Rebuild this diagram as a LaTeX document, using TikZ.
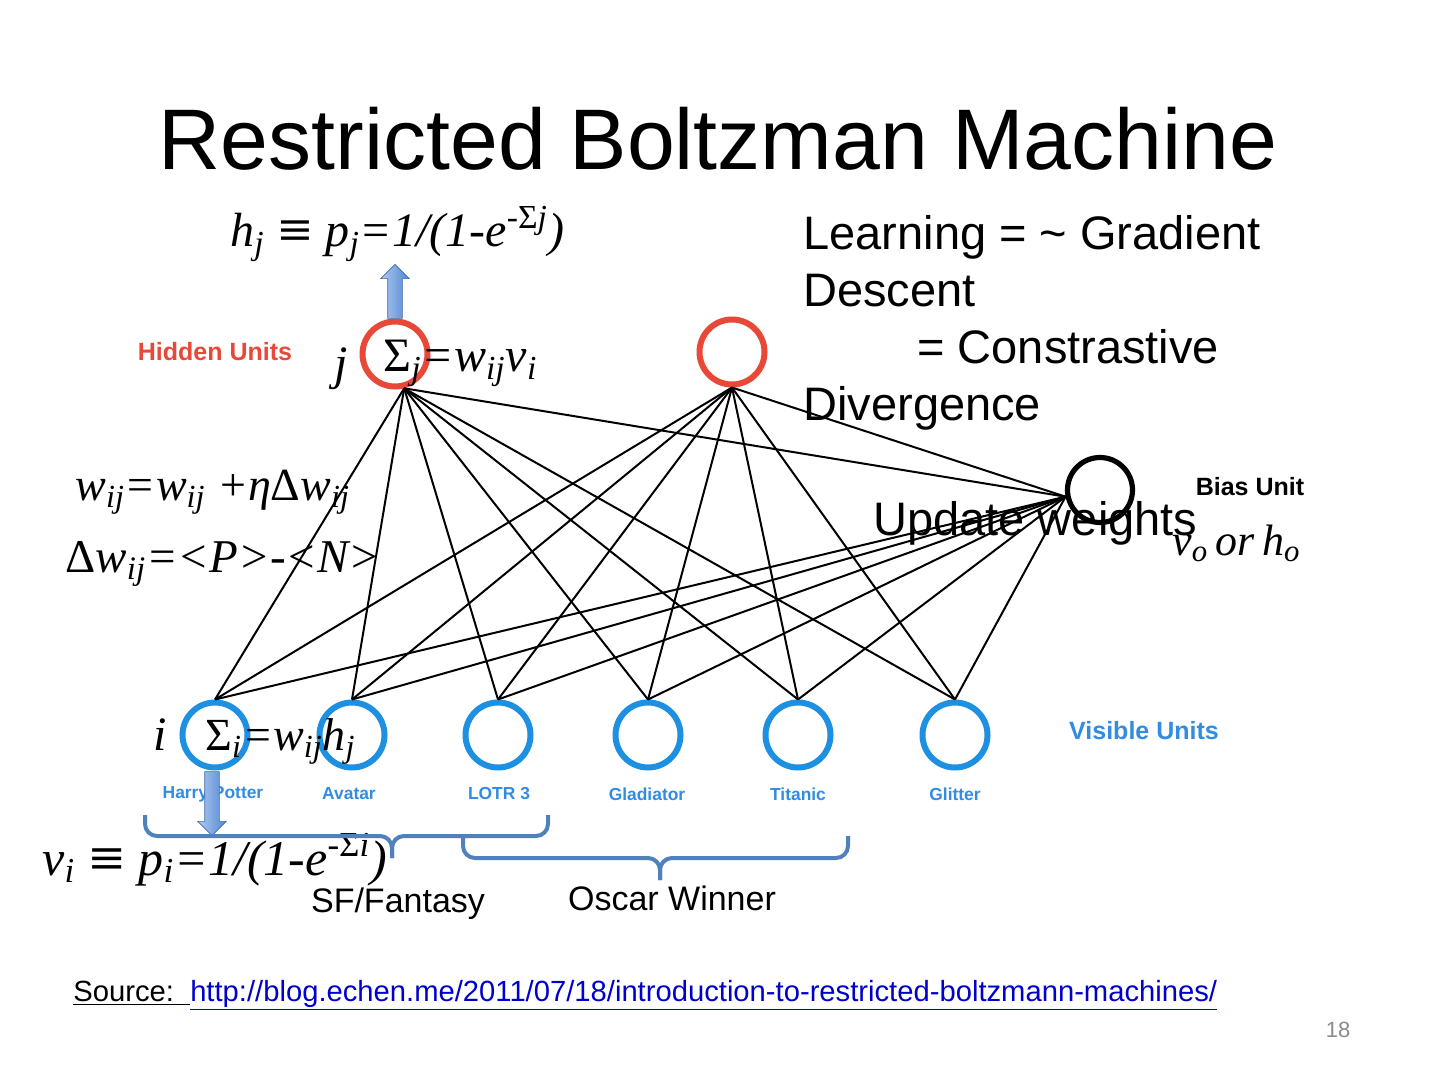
\documentclass[tikz,border=0pt]{standalone}
\usepackage{fontspec}
\setmainfont{Liberation Sans}
\newfontfamily\eqfont{Liberation Serif}
\usetikzlibrary{shapes.arrows}
\definecolor{hiddenred}{RGB}{232,72,56}
\definecolor{visblue}{RGB}{30,144,226}
\definecolor{labelblue}{RGB}{50,140,225}
\definecolor{bracecol}{RGB}{79,129,189}
\definecolor{arrowblue}{RGB}{80,135,215}
\definecolor{urlblue}{RGB}{0,0,204}
\definecolor{pagegray}{RGB}{140,140,140}
\tikzset{
  unit/.style={circle,inner sep=0pt,minimum size=32.5pt,line width=3pt},
  hidden/.style={unit,draw=hiddenred},
  visible/.style={unit,draw=visblue},
  biasunit/.style={unit,draw=black,line width=2.6pt},
  unitlabel/.style={font=\bfseries\fontsize{12.5}{14}\selectfont},
  movie/.style={font=\bfseries\fontsize{8.7}{10}\selectfont,text=labelblue},
  eqn/.style={anchor=base west,inner sep=0pt,font=\eqfont\itshape\fontsize{24}{28}\selectfont},
  bodytext/.style={anchor=base west,inner sep=0pt,font=\fontsize{23.5}{28.5}\selectfont},
  grouptext/.style={anchor=base,inner sep=0pt,font=\fontsize{17}{20}\selectfont},
  edge/.style={line width=1pt},
  bigarrow/.style={single arrow,inner sep=3.5pt,single arrow head extend=3.5pt,
    draw=arrowblue!80!black,line width=0.3pt,left color=arrowblue!45,right color=arrowblue},
  grouping/.style={draw=bracecol,line width=2pt,rounded corners=6pt}
}
\newcommand{\eqv}{\;{\upshape\bfseries\scalebox{1.25}[1]{≡}}\;}
\begin{document}
\begin{tikzpicture}[x=0.5pt,y=-0.5pt]
  \fill[white] (0,0) rectangle (1440,1080);
  \useasboundingbox (0,0) rectangle (1440,1080);
  \node[anchor=base,font=\fontsize{43}{50}\selectfont] (title) at (718,170) {Restricted Boltzman Machine};
  % units
  \node[hidden] (h1) at (395,354) {};
  \node[hidden] (h2) at (732,352) {};
  \node[biasunit] (bias) at (1100,490) {};
  \node[visible] (v1) at (215,735) {};
  \node[visible] (v2) at (352,735) {};
  \node[visible] (v3) at (498,735) {};
  \node[visible] (v4) at (648,735) {};
  \node[visible] (v5) at (798,735) {};
  \node[visible] (v6) at (955,735) {};
  \node[unitlabel,text=hiddenred] (hlabel) at (215,352) {Hidden Units};
  \node[unitlabel,text=labelblue] (vlabel) at (1144,731) {Visible Units};
  \node[unitlabel] (blabel) at (1250,487) {Bias Unit};
  \node[movie] (m1) at (213,794) {Harry Potter};
  \node[movie] (m2) at (349,794) {Avatar};
  \node[movie] (m3) at (499,794) {LOTR 3};
  \node[movie] (m4) at (647,794) {Gladiator};
  \node[movie] (m5) at (798,794) {Titanic};
  \node[movie] (m6) at (955,794) {Glitter};
  \begin{scope}[edge]
    \draw (h1.-75) to (v1.north);
    \draw (h1.-75) to (v2.north);
    \draw (h1.-75) to (v3.north);
    \draw (h1.-75) to (v4.north);
    \draw (h1.-75) to (v5.north);
    \draw (h1.-75) to (v6.north);
    \draw (h1.-75) to (bias.191);
    \draw (h2.south) to (v1.north);
    \draw (h2.south) to (v2.north);
    \draw (h2.south) to (v3.north);
    \draw (h2.south) to (v4.north);
    \draw (h2.south) to (v5.north);
    \draw (h2.south) to (v6.north);
    \draw (h2.south) to (bias.191);
    \draw (bias.191) to (v1.north);
    \draw (bias.191) to (v2.north);
    \draw (bias.191) to (v3.north);
    \draw (bias.191) to (v4.north);
    \draw (bias.191) to (v5.north);
    \draw (bias.191) to (v6.north);
  \end{scope}
  % sampling arrows
  \node[bigarrow,rotate=90,minimum height=27pt] (up) at (395,295) {};
  \node[bigarrow,rotate=-90,minimum height=32pt] (down) at (212,800) {};
  % formulas
  \node[eqn] (hj) at (230,247) {h\textsubscript{j}\eqv p\textsubscript{j}=1/(1-e\textsuperscript{-{\upshape Σ}j})};
  \node[eqn,anchor=base] (j) at (341,380) {j};
  \node[eqn] (sumj) at (383,372) {{\upshape Σ}\textsubscript{j}=w\textsubscript{ij}v\textsubscript{i}};
  \node[eqn,font=\eqfont\itshape\fontsize{23}{27}\selectfont] (upd) at (75,500) {w\textsubscript{ij}=w\textsubscript{ij} +η{\upshape Δ}w\textsubscript{ij}};
  \node[eqn,font=\eqfont\itshape\fontsize{23.5}{27}\selectfont] (dw) at (65,572) {{\upshape Δ}w\textsubscript{ij}=<P>-<N>};
  \node[eqn,anchor=base] (i) at (160,750) {i};
  \node[eqn,font=\eqfont\itshape\fontsize{23}{27}\selectfont] (sumi) at (205,750) {{\upshape Σ}\textsubscript{i}=w\textsubscript{ij}h\textsubscript{j}};
  \node[eqn,font=\eqfont\itshape\fontsize{25}{29}\selectfont] (vi) at (42,875) {v\textsubscript{i}\eqv p\textsubscript{i}=1/(1-e\textsuperscript{-{\upshape Σ}i})};
  \node[eqn,font=\eqfont\itshape\fontsize{22}{26}\selectfont] (vo) at (1172,555) {v\textsubscript{o}\,or\,h\textsubscript{o}};
  % text
  \node[bodytext,align=left,anchor=north west] (learn) at (803,215)
    {Learning = \textasciitilde{} Gradient\\Descent\\\hspace*{57pt}= Constrastive\\Divergence};
  \node[bodytext] (weights) at (873,535) {Update weights};
  % groups
  \coordinate (sfl) at (145,815);
  \coordinate (sfr) at (548,815);
  \coordinate (sftip) at (392,858);
  \coordinate (osl) at (463,836);
  \coordinate (osr) at (848,836);
  \coordinate (ostip) at (660,880);
  \draw[grouping] (sfl) |- (392,836) -- (sftip);
  \draw[grouping] (sfr) |- (392,836) -- (sftip);
  \draw[grouping] (osl) |- (660,858) -- (ostip);
  \draw[grouping] (osr) |- (660,858) -- (ostip);
  \node[grouptext] (sf) at (398,912) {SF/Fantasy};
  \node[grouptext] (oscar) at (672,910) {Oscar Winner};
  % footer
  \node[anchor=base west,inner sep=0pt,font=\fontsize{14.6}{18}\selectfont] (src) at (73,1001)
    {\underline{Source:\ \ }\textcolor{urlblue}{\underline{http://blog.echen.me/2011/07/18/introduction-to-restricted-boltzmann-machines/}}};
  \node[font=\fontsize{11}{13}\selectfont,text=pagegray] (page) at (1338,1030) {18};
\end{tikzpicture}
\end{document}
